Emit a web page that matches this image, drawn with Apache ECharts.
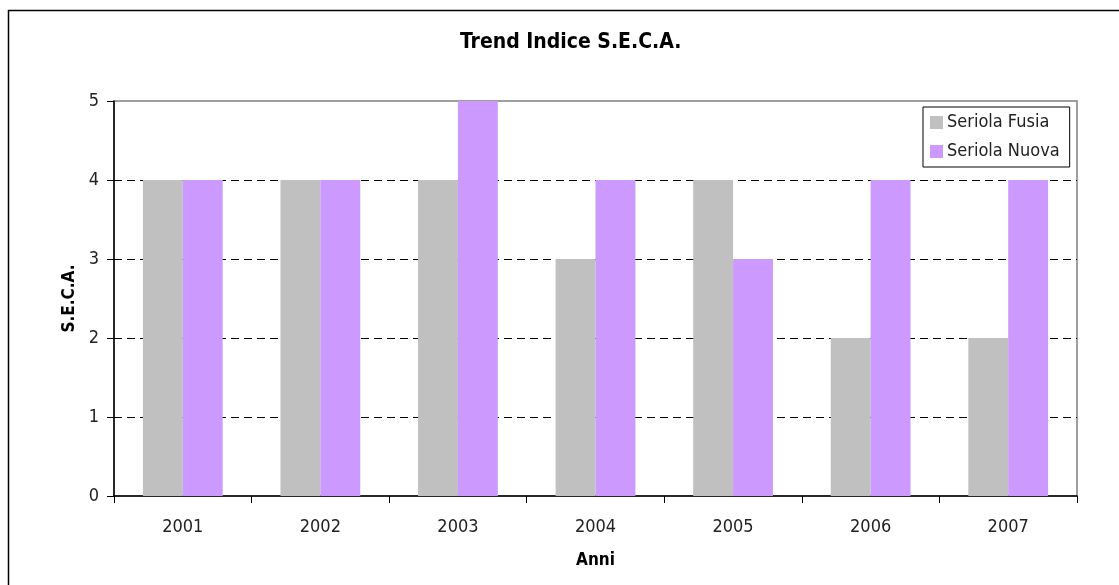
<!DOCTYPE html>
<html>
<head>
<meta charset="utf-8">
<script src="https://cdn.jsdelivr.net/npm/echarts@6/dist/echarts.min.js"></script>
<style>
html,body{margin:0;padding:0;background:#fff;}
#c{width:1119px;height:585px;}
</style>
</head>
<body>
<div id="c"></div>
<script>
const categories = ['2001','2002','2003','2004','2005','2006','2007'];
const seriolaFusia = [4, 4, 4, 3, 4, 2, 2];
const seriolaNuova = [4, 4, 5, 4, 3, 4, 4];
const seriesNames = ['Seriola Fusia', 'Seriola Nuova'];
const titleText = 'Trend Indice S.E.C.A.';
const yTitle = 'S.E.C.A.';
const xTitle = 'Anni';

const FONT = '"DejaVu Sans Condensed", "DejaVu Sans", sans-serif';
const chart = echarts.init(document.getElementById('c'), null, {renderer: 'canvas'});
chart.setOption({
  animation: false,
  backgroundColor: '#fff',
  title: {
    text: titleText,
    left: 455,
    top: 27,
    textStyle: {fontFamily: FONT, fontSize: 21, fontWeight: 'bold', color: '#000'}
  },
  graphic: [{
    type: 'rect',
    shape: {x: 8.5, y: 10.5, width: 1200, height: 1000},
    style: {fill: 'none', stroke: '#000', lineWidth: 1.5},
    silent: true
  }],
  legend: {
    orient: 'vertical',
    left: 923,
    top: 107,
    padding: [5, 10, 5, 7],
    itemGap: 8,
    itemWidth: 13,
    itemHeight: 13,
    borderColor: '#000',
    borderWidth: 1,
    icon: 'rect',
    backgroundColor: '#fff',
    textStyle: {fontFamily: FONT, fontSize: 18, color: '#222', padding: [0, 0, 0, -1], lineHeight: 21}
  },
  grid: {
    left: 114, right: 42, top: 101, bottom: 89,
    show: true, borderColor: '#808080', borderWidth: 1.5, backgroundColor: 'transparent'
  },
  xAxis: {
    type: 'category',
    data: categories,
    name: xTitle,
    nameLocation: 'middle',
    nameGap: 56,
    nameTextStyle: {fontFamily: FONT, fontSize: 17, fontWeight: 'bold', color: '#000'},
    axisLine: {lineStyle: {color: '#000', width: 1.5}},
    axisTick: {show: true, alignWithLabel: false, length: 7, lineStyle: {color: '#000'}},
    axisLabel: {fontFamily: FONT, fontSize: 18, color: '#222', margin: 22},
    splitLine: {show: false}
  },
  yAxis: {
    type: 'value',
    min: 0, max: 5, interval: 1,
    name: yTitle,
    nameLocation: 'middle',
    nameGap: 36,
    nameTextStyle: {fontFamily: FONT, fontSize: 17, fontWeight: 'bold', color: '#000'},
    axisLine: {show: true, lineStyle: {color: '#000', width: 1.5}},
    axisTick: {show: true, length: 7, lineStyle: {color: '#000'}},
    axisLabel: {fontFamily: FONT, fontSize: 18, color: '#222', margin: 15},
    splitLine: {show: true, lineStyle: {color: ['transparent', '#000', '#000', '#000', '#000', 'transparent'], type: [8, 5], width: 1.2}}
  },
  series: [
    {name: seriesNames[0], type: 'bar', data: seriolaFusia, barGap: '0%', barCategoryGap: '42%', itemStyle: {color: '#C0C0C0'}},
    {name: seriesNames[1], type: 'bar', data: seriolaNuova, barGap: '0%', barCategoryGap: '42%', itemStyle: {color: '#CC99FF'}}
  ]
});
</script>
</body>
</html>
